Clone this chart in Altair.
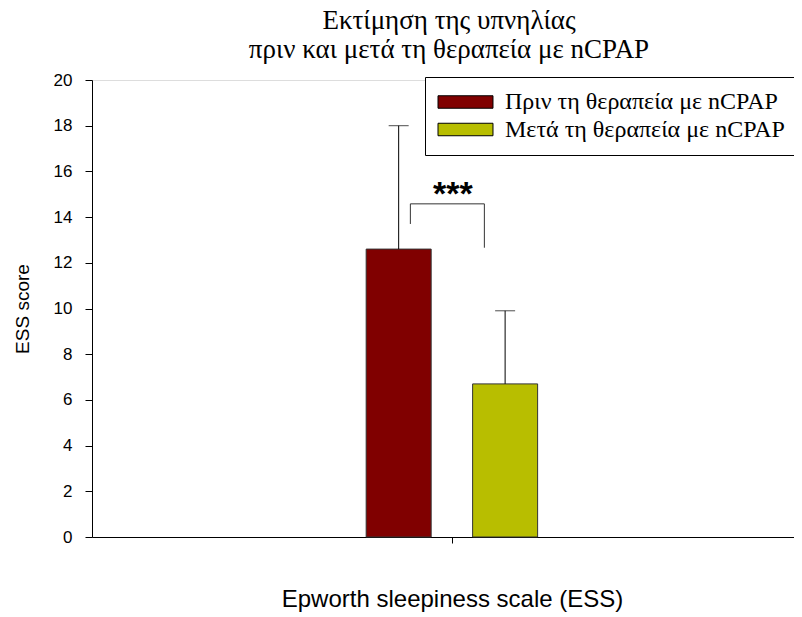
import altair as alt
import pandas as pd

groups = ["Πριν τη θεραπεία με nCPAP", "Μετά τη θεραπεία με nCPAP"]
positions = [-1.0, 1.0]
means = [12.6, 6.7]
upper = [18.0, 9.9]
colors = ["#800000", "#B8BE00"]

bracket_x = [-0.78, -0.78, 0.61, 0.61]
bracket_y = [13.7, 14.58, 14.58, 12.66]
bracket_order = [0, 1, 2, 3]

stars_x = [0.02]
stars_y = [14.55]
stars_text = ["***"]

x_title = "Epworth sleepiness scale (ESS)"
y_title = "ESS score"
y_ticks = [0, 2, 4, 6, 8, 10, 12, 14, 16, 18, 20]

df = pd.DataFrame({"group": groups, "pos": positions, "mean": means, "upper": upper})
br = pd.DataFrame({"x": bracket_x, "y": bracket_y, "order": bracket_order})
st = pd.DataFrame({"x": stars_x, "y": stars_y, "t": stars_text})

xscale = alt.Scale(domain=[-6.667, 6.333], nice=False, zero=False)
yscale = alt.Scale(domain=[0, 20], nice=False)

xaxis = alt.Axis(values=[0], labels=False, tickSize=6, grid=False, title=x_title,
                 titleFont="Liberation Sans", titleFontSize=24, titleFontWeight="normal",
                 titleColor="black", titlePadding=44, titleX=360,
                 domainColor="black", tickColor="black")
yaxis = alt.Axis(values=y_ticks, grid=False, tickSize=7, labelPadding=13,
                 labelFont="Liberation Sans", labelFontSize=17, labelColor="black",
                 title=y_title, titleFont="Liberation Sans", titleFontSize=19,
                 titleFontWeight="normal", titleColor="black", titlePadding=21,
                 domainColor="black", tickColor="black")

color = alt.Color("group:N", scale=alt.Scale(domain=groups, range=colors),
                  legend=alt.Legend(title=None, orient="none", legendX=333, legendY=-3,
                                    padding=13, strokeColor="black", fillColor="white",
                                    symbolType="M-4.583,-1.04H4.583V1.04H-4.583Z", symbolSize=144,
                                    symbolStrokeColor="black", symbolStrokeWidth=1,
                                    symbolOpacity=1, symbolOffset=15.5,
                                    labelFont="Liberation Serif", labelFontSize=24,
                                    labelColor="black", labelOffset=27.5, rowPadding=3.5,
                                    labelLimit=400))

bars = alt.Chart(df).mark_bar(size=65, stroke="#333333", strokeWidth=1, opacity=1).encode(
    x=alt.X("pos:Q", scale=xscale, axis=xaxis),
    y=alt.Y("mean:Q", scale=yscale, axis=yaxis),
    color=color,
)

whisk = alt.Chart(df).mark_rule(color="black", strokeWidth=1).encode(
    x=alt.X("pos:Q", title=x_title),
    y=alt.Y("mean:Q", title=y_title),
    y2="upper:Q",
)

caps = alt.Chart(df).mark_tick(orient="horizontal", size=20, thickness=1, color="black").encode(
    x=alt.X("pos:Q", title=x_title),
    y=alt.Y("upper:Q", title=y_title),
)

bracket = alt.Chart(br).mark_line(color="#333333", strokeWidth=1).encode(
    x=alt.X("x:Q", title=x_title),
    y=alt.Y("y:Q", title=y_title),
    order="order:O",
)

stars = alt.Chart(st).mark_text(font="Liberation Sans", fontSize=34, fontWeight="bold",
                                 baseline="alphabetic", align="center", color="black").encode(
    x=alt.X("x:Q", title=x_title),
    y=alt.Y("y:Q", title=y_title),
    text="t:N",
)

chart = alt.layer(bars, whisk, caps, bracket, stars).properties(
    width=702,
    height=457,
    title=alt.TitleParams(
        text=["Εκτίμηση της υπνηλίας", "πριν και μετά τη θεραπεία με nCPAP"],
        font="Liberation Serif", fontSize=27, fontWeight="normal", lineHeight=29,
        color="black", anchor="middle", offset=10, dx=6, dy=30, baseline="bottom",
    ),
    autosize=alt.AutoSizeParams(type="none"),
    padding={"left": 84, "top": 72, "right": 0, "bottom": 76},
).configure_view(stroke=None).configure(background="white")

chart.save("out.html", embed_options={"renderer": "svg", "actions": False})
